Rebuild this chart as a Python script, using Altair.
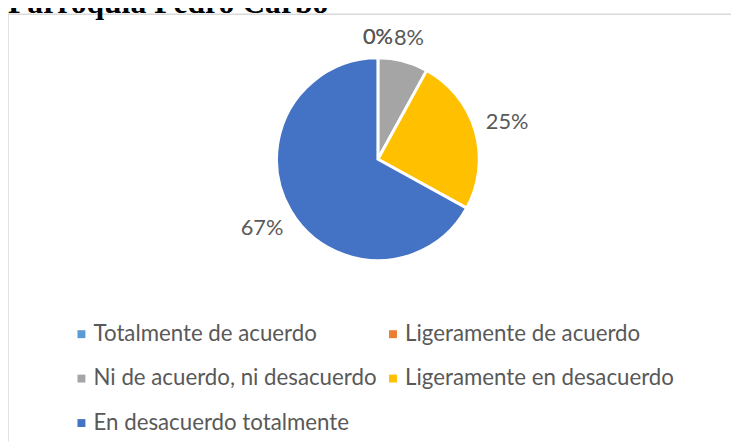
import altair as alt
import pandas as pd

# ---- data ----
categorias = [
    "Totalmente de acuerdo",
    "Ligeramente de acuerdo",
    "Ni de acuerdo, ni desacuerdo",
    "Ligeramente en desacuerdo",
    "En desacuerdo totalmente",
]
porcentajes = [0, 0, 8, 25, 67]
colores = ["#5B9BD5", "#ED7D31", "#A5A5A5", "#FFC000", "#4472C4"]
titulo = "Parroquia Pedro Carbo"

df = pd.DataFrame({"categoria": categorias, "pct": porcentajes, "orden": list(range(len(categorias)))})

FONT = "Lato"
TXT = "#595959"
W, H = 731, 432
CX, CY = 374, 146.5

color = alt.Color(
    "categoria:N",
    scale=alt.Scale(domain=categorias, range=colores),
    sort=categorias,
    legend=alt.Legend(
        orient="none",
        direction="horizontal",
        legendX=63,
        legendY=312,
        columns=2,
        title=None,
        symbolType="square",
        symbolSize=64,
        symbolStrokeWidth=0,
        labelFont=FONT,
        labelFontSize=22.5,
        labelColor=TXT,
        labelOffset=1,
        columnPadding=5,
        rowPadding=22,
        labelLimit=400,
    ),
)

pie = alt.Chart(df).mark_arc(outerRadius=102.5, stroke="white", strokeWidth=3).encode(
    theta=alt.Theta("pct:Q", stack=True),
    order=alt.Order("orden:Q"),
    color=color,
    x=alt.value(CX),
    y=alt.value(CY),
)

# labels sit just outside the pie edge, pushed out by their own half-size
labels = (
    alt.Chart(df)
    .transform_joinaggregate(total="sum(pct)")
    .transform_window(cum="sum(pct)", sort=[{"field": "orden"}], frame=[None, 0])
    .transform_calculate(
        etiqueta="format(datum.pct, 'd') + '%'",
        mid="2 * PI * (datum.cum - datum.pct / 2) / datum.total",
    )
    .transform_calculate(
        r="115 + abs(sin(datum.mid)) * length(datum.etiqueta) * 6.5 + abs(cos(datum.mid)) * 8.5"
    )
    .mark_text(font=FONT, fontSize=22, color=TXT)
    .encode(
        theta=alt.Theta("mid:Q", scale=None, stack=None),
        radius=alt.Radius("r:Q", scale=None),
        text="etiqueta:N",
        x=alt.value(CX),
        y=alt.value(CY),
    )
)

frame_df = pd.DataFrame({"k": [0]})
top_line = alt.Chart(frame_df).mark_rule(color="#D9D9D9", strokeWidth=1.5).encode(
    x=alt.value(0), x2=alt.value(W), y=alt.value(0)
)
left_line = alt.Chart(frame_df).mark_rule(color="#D9D9D9", strokeWidth=1.5).encode(
    x=alt.value(0), y=alt.value(0), y2=alt.value(H)
)
title_txt = alt.Chart(frame_df).mark_text(
    text=titulo, font="Liberation Serif", fontSize=32, fontWeight="bold",
    color="black", align="left", baseline="alphabetic"
).encode(x=alt.value(0), y=alt.value(-1))

chart = (
    alt.layer(top_line, left_line, pie, labels, title_txt)
    .resolve_scale(theta="independent")
    .properties(
        width=W,
        height=H,
        autosize=alt.AutoSizeParams(type="none"),
        padding={"top": 4, "left": 0, "right": 0, "bottom": 0},
        background="white",
    )
    .configure_view(strokeWidth=0)
)

chart.save("out.html", embed_options={"renderer": "svg", "actions": False})
